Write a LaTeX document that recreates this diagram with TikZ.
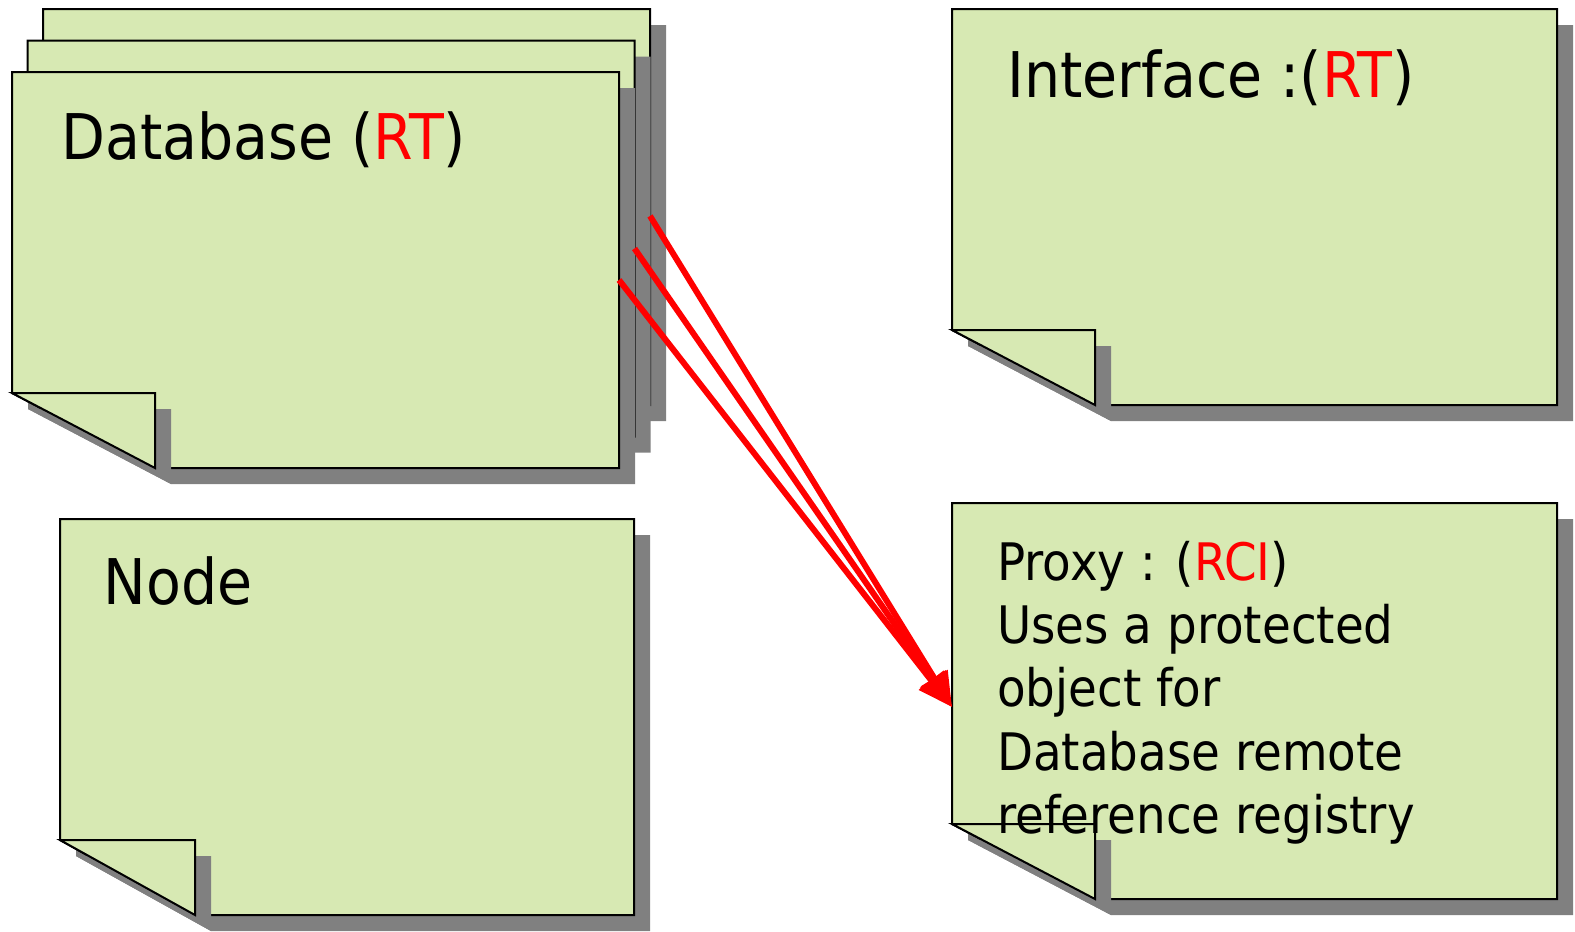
\documentclass[tikz,border=0pt]{standalone}
\usepackage{fontspec}
\setmainfont[FakeStretch=0.905]{DejaVu Sans}
\usetikzlibrary{arrows.meta}

\definecolor{notegreen}{RGB}{215,233,179}
\definecolor{dropgray}{RGB}{128,128,128}

% Folded note: drop shadow, body with cut corner, folded flap (#1 = node, #2 = flap width)
\newcommand\foldnote[2]{%
  \fill[notedrop]
    ([shift={(16pt,-16pt)}]#1.north west) -- ([shift={(16pt,-16pt)}]#1.north east)
    -- ([shift={(16pt,-16pt)}]#1.south east) -- ([shift={(16pt+#2,-16pt)}]#1.south west)
    -- ([shift={(16pt,59pt)}]#1.south west) -- cycle;
  \filldraw[notebody] (#1.north west) -- (#1.north east) -- (#1.south east)
    -- ([xshift=#2]#1.south west) -- ([yshift=75pt]#1.south west) -- cycle;
  \fill[notedrop] ([shift={(16pt,59pt)}]#1.south west) -- ([shift={(16pt+#2,59pt)}]#1.south west)
    -- ([shift={(16pt+#2,-16pt)}]#1.south west) -- cycle;
  \filldraw[notebody] ([yshift=75pt]#1.south west) -- ([shift={(#2,75pt)}]#1.south west)
    -- ([xshift=#2]#1.south west) -- cycle;
}

\tikzset{
  notebox/.style={rectangle, inner sep=0pt, outer sep=0pt, minimum height=396pt, anchor=north west},
  notebody/.style={fill=notegreen, draw=black, line width=2pt},
  notedrop/.style={fill=dropgray},
  title/.style={anchor=base west, inner sep=0pt, font=\fontsize{63}{75}\selectfont},
  bodytext/.style={anchor=base west, inner sep=0pt, font=\fontsize{51.7}{63}\selectfont},
  link/.style={draw=red, line width=6pt, -{Triangle[length=34pt,width=30pt]}}
}

\begin{document}
\begin{tikzpicture}[x=1pt,y=-1pt]
\useasboundingbox[fill=white] (0,0) rectangle (1575,932);

% note frames
\node[notebox, minimum width=607pt] (dbBack)  at (43,9) {};
\node[notebox, minimum width=607pt] (dbMid)   at (27.5,40.5) {};
\node[notebox, minimum width=607pt] (dbFront) at (12,72) {};
\node[notebox, minimum width=574pt] (nodeNote) at (60,519) {};
\node[notebox, minimum width=605pt] (iface)   at (952,9) {};
\node[notebox, minimum width=605pt] (proxy)   at (952,503) {};

% stacked database notes, back to front
\foldnote{dbBack}{143pt}
\foldnote{dbMid}{143pt}
\foldnote{dbFront}{143pt}
\foldnote{nodeNote}{135pt}
\foldnote{iface}{143pt}
\foldnote{proxy}{143pt}

% labels
\node[title] (dbLabel) at (61,159) {Database (\textcolor{red}{RT})};
\node[title] (ifaceLabel) at (1007,97) {Interface :(\textcolor{red}{RT})};
\node[title] (nodeLabel) at (103.5,604) {Node};
\node[bodytext] (px1) at (997,580) {Proxy : (\textcolor{red}{RCI})};
\node[bodytext] (px2) at (997,643) {Uses a protected};
\node[bodytext] (px3) at (997,706) {object for};
\node[bodytext] (px4) at (997,770) {Database remote};
\node[bodytext] (px5) at (997,833) {reference registry};

% references from each database copy to the proxy
\coordinate (sBack)  at ([yshift=-9pt]dbBack.east);
\coordinate (sMid)   at ([yshift=-10pt]dbMid.east);
\coordinate (sFront) at ([yshift=-10pt]dbFront.east);
\coordinate (tip)    at ([yshift=-6pt]proxy.west);
\draw[link] (sBack) -- (tip);
\draw[link] (sMid) -- (tip);
\draw[link] (sFront) -- (tip);
\end{tikzpicture}
\end{document}
